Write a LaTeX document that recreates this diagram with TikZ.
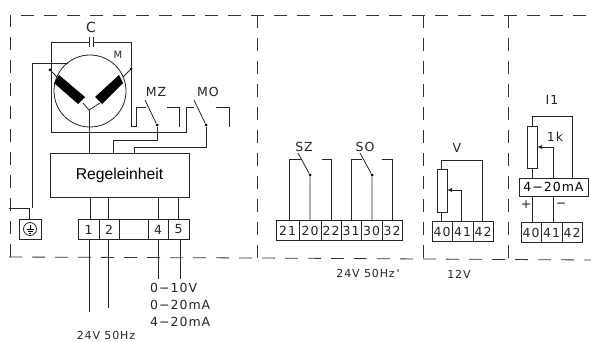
\documentclass[tikz,border=0pt]{standalone}
\usepackage{fontspec}
\usetikzlibrary{arrows.meta}
\setmainfont{Liberation Sans}
\newfontfamily\wide[LetterSpace=8]{DejaVu Sans}
\tikzset{
 wire/.style={draw=black!85,line width=0.8pt},
 dashline/.style={draw=black!80,line width=0.8pt,dash pattern=on 13pt off 10pt},
 lab/.style={inner sep=0pt,font=\wide\fontsize{12.5}{12.5}\selectfont,text=black!85},
 big/.style={lab,font=\wide\fontsize{12.5}{12.5}\selectfont},
 small/.style={lab,font=\wide\fontsize{11}{11}\selectfont},
 term/.style={draw=black!85,line width=0.8pt,fill=white},
 dotm/.style={circle,fill=black,inner sep=0pt,minimum size=3pt},
}
\begin{document}
\begin{tikzpicture}[x=1pt,y=-1pt]
\useasboundingbox[fill=white] (0,0) rectangle (591,342);
% frames
\draw[dashline] (10,257) -- (10,15) -- (591,15);
\draw[dashline] (9,257) -- (257,258) -- (591,260);
\draw[dashline] (257,15) -- (257,258);
\draw[dashline] (423,15) -- (423,259);
\draw[dashline] (508,15) -- (508,259);
% motor
\node[circle,draw=black!85,line width=0.8pt,minimum size=72pt,inner sep=0pt] (motor) at (90,91) {};
\node[lab,font=\wide\fontsize{10}{10}\selectfont] (mlabel) at (118,55) {M};
\node[lab,font=\wide\fontsize{14}{14}\selectfont] (clabel) at (91,27) {C};
\fill[black] (59,75) -- (85,97) -- (78,104) -- (54,83) -- cycle;
\fill[black] (119,75) -- (123,83) -- (102,104) -- (95,97) -- cycle;
\draw[wire] (83,103) -- (89,110) -- (100,103);
\node[dotm] (tl) at (50,70) {};
\node[dotm] (tr) at (131,69) {};
\draw[wire] (tl) -- (57,77);
\draw[wire] (tr) -- (123,77);
% capacitor loop
\draw[wire] (51,132) -- (51,42) -- (89,42) (89,37) -- (89,47) (93,37) -- (93,47) (93,42) -- (131,42) -- (131,126) -- (136,126) -- (136,107) -- (146,107);
\draw[wire] (51,132) -- (186,132) -- (186,107) -- (194,107);
% switches
\node[dotm] (mz) at (157,125) {};
\node[dotm] (mo) at (206,125) {};
\draw[wire] (145,100) -- (mz);
\draw[wire] (194,100) -- (mo);
\draw[wire] (167,107) -- (179,107) -- (179,127);
\draw[wire] (216,107) -- (229,107) -- (229,127);
\node[lab] (mzl) at (156,92) {MZ};
\node[lab] (mol) at (208,92) {MO};
% Regeleinheit
\node[draw=black!85,line width=0.8pt,minimum width=139pt,minimum height=44pt,inner sep=0pt,font=\fontsize{15.7}{15.7}\selectfont] (reg) at (119.5,175) {Regeleinheit};
\draw[wire] (mz) -- (157,140) -- (113,140) -- (113,153);
\draw[wire] (mo) -- (206,147) -- (134,147) -- (134,153);
\draw[wire] (89,110) -- (89,153);
% earth
\draw[wire] (68,63) -- (32,63) -- (32,208);
\draw[wire] (9,208) -- (29,208) -- (29,219);
\node[draw=black!85,line width=0.8pt,minimum width=22pt,minimum height=20pt,inner sep=0pt] (gnd) at (30,229) {};
\draw[wire] (30,229) circle (6.5pt);
\draw[line width=0.6pt] (30,224.5) -- (30,229) (26.5,229) -- (33.5,229) (27.5,231) -- (32.5,231) (29,233) -- (31,233);
% terminals 1..5
\foreach \a/\b/\t in {78/99/1,99/119/2,119/148/,148/168/4,168/189/5}{
 \draw[term] (\a,219) rectangle (\b,239);
 \node[lab] at ({(\a+\b)/2},229.5) {\t};
}
\foreach \x in {90,108,158,178}{\draw[wire] (\x,197) -- (\x,219);}
\draw[wire] (89,239) -- (89,312);
\draw[wire] (108,239) -- (108,308);
\draw[wire] (158,239) -- (158,279);
\draw[wire] (180,239) -- (180,279);
\node[big,anchor=west] (a1) at (150,288) {0−10V};
\node[big,anchor=west] (a2) at (150,305) {0−20mA};
\node[big,anchor=west] (a3) at (150,322) {4−20mA};
\node[small] (p1) at (106,335.5) {24V 50Hz};
% SZ SO
\foreach \a/\b/\t in {276/299/21,299/321/20,321/341/22,341/361/31,361/382/30,382/402/32}{
 \draw[term] (\a,220) rectangle (\b,240);
 \node[lab] at ({(\a+\b)/2},230.5) {\t};
}
\node[dotm] (sz) at (310,175) {};
\node[dotm] (so) at (372,175) {};
\draw[wire] (298,153) -- (sz) -- (310,220);
\draw[wire] (360,153) -- (so) -- (372,220);
\draw[wire] (289,220) -- (289,159) -- (301,159);
\draw[wire] (322,159) -- (331,159) -- (331,220);
\draw[wire] (351,220) -- (351,159) -- (362,159);
\draw[wire] (382,159) -- (392,159) -- (392,220);
\node[lab] (szl) at (304,147) {SZ};
\node[lab] (sol) at (365,147) {SO};
\node[small] (p2) at (368,273) {24V 50Hz\,'};
% V
\foreach \a/\b/\t in {432/452/40,452/473/41,473/493/42}{
 \draw[term] (\a,221) rectangle (\b,241);
 \node[lab] at ({(\a+\b)/2},231.5) {\t};
}
\draw[term] (437,169) rectangle (447,212);
\draw[wire] (441,169) -- (441,160) -- (482,160) -- (482,221);
\draw[wire] (441,212) -- (441,221);
\draw[wire,-{Latex[length=5pt,width=4pt]}] (461,221) -- (461,190) -- (447,190);
\node[lab] (vl) at (457,148) {V};
\node[small] (p3) at (459,274) {12V};
% I1
\foreach \a/\b/\t in {521/541/40,541/562/41,562/582/42}{
 \draw[term] (\a,222) rectangle (\b,242);
 \node[lab] at ({(\a+\b)/2},232.5) {\t};
}
\node[draw=black!85,line width=0.8pt,minimum width=69pt,minimum height=18pt,inner sep=0pt,font=\wide\fontsize{12.5}{12.5}\selectfont] (conv) at (553.5,187) {4−20mA};
\draw[term] (527,126) rectangle (537,168);
\draw[wire] (532,126) -- (532,116) -- (572,116) -- (572,178);
\draw[wire] (532,168) -- (532,178);
\draw[wire,-{Latex[length=5pt,width=4pt]}] (553,178) -- (553,147) -- (537,147);
\draw[wire] (532,196) -- (532,222);
\draw[wire] (553,196) -- (553,222);
\node[lab] (pl) at (526,205) {+};
\node[lab] (mi) at (561,205) {−};
\node[lab] (kl) at (555,137) {1k};
\node[lab] (il) at (552,100) {I1};
\end{tikzpicture}
\end{document}
